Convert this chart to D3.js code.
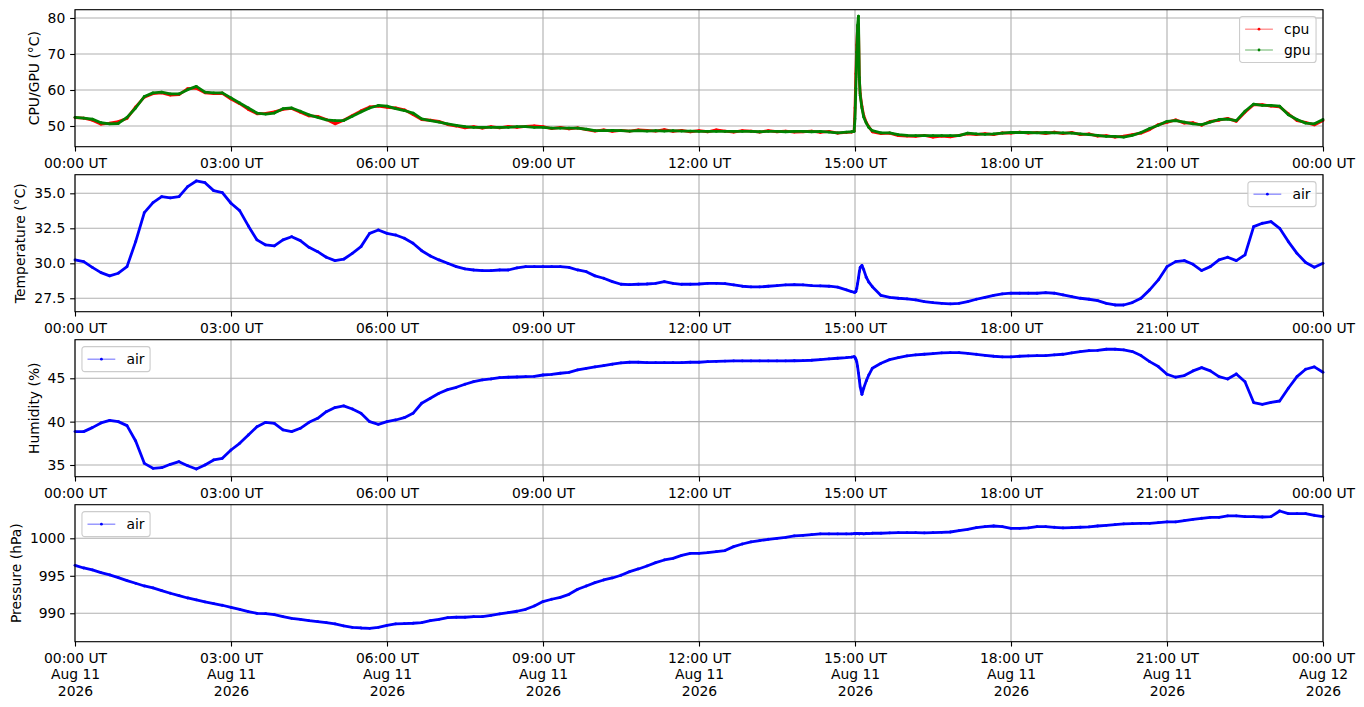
<!DOCTYPE html>
<html>
<head>
<meta charset="utf-8">
<script src="https://cdn.jsdelivr.net/npm/d3@7"></script>
<style>
   body { margin: 0; background: white; }
   svg text { font-family: 'DejaVu Sans', sans-serif; font-size: 13.9px; fill: black; }
</style>
</head>
<body>
<script>

// SAMPLE TIMES -- MINUTES AFTER 00:00 UT, DENSER AROUND THE 15:00 EVENT
var minutes = d3.range(0, 900, 10)
   .concat([896, 899, 900, 901, 902, 903, 904, 905, 906, 908, 910, 913, 916])
   .concat(d3.range(920, 1441, 10));

// CPU / GPU TEMPERATURE (°C)
var cpu = [
   52.3, 52.2, 51.6, 50.5, 50.8, 51.2,
   52.1, 55.3, 58.0, 59.0, 59.2, 58.6,
   58.7, 60.4, 60.5, 59.2, 59.0, 59.1,
   57.5, 56.2, 54.6, 53.4, 53.5, 53.9,
   54.6, 54.9, 53.8, 52.8, 52.7, 51.8,
   50.6, 51.6, 52.9, 54.2, 55.3, 55.5,
   55.2, 55.0, 54.5, 53.2, 51.8, 51.6,
   51.3, 50.4, 50.0, 49.5, 49.8, 49.4,
   49.8, 49.5, 49.9, 49.6, 49.9, 50.0,
   49.8, 49.3, 49.6, 49.2, 49.5, 49.0,
   48.6, 48.9, 48.5, 48.8, 48.6, 48.9,
   48.8, 48.6, 49.0, 48.5, 48.8, 48.4,
   48.7, 48.4, 48.9, 48.6, 48.3, 48.7,
   48.6, 48.3, 48.7, 48.4, 48.6, 48.3,
   48.4, 48.6, 48.2, 48.5, 48.0, 48.2,
   48.3, 48.6, 55.0, 64.5, 72.5, 77.5, 78.2, 63.0, 59.0, 55.5, 53.0, 51.0, 49.8,
   48.4, 47.9, 48.0, 47.3,
   47.2, 47.1, 47.4, 46.9, 47.2, 47.0,
   47.4, 47.8, 47.6, 47.9, 47.6, 48.1,
   48.0, 48.3, 48.0, 48.2, 47.9, 48.3,
   47.9, 48.2, 47.6, 47.8, 47.2, 47.3,
   46.9, 47.2, 47.6, 48.0, 49.0, 50.4,
   51.0, 51.7, 50.8, 50.9, 50.2, 51.3,
   51.6, 52.1, 51.3, 53.8, 55.9, 55.9,
   55.5, 55.3, 53.4, 51.5, 51.0, 50.3,
   51.5
];
var gpu = [
   52.4, 52.2, 51.9, 50.9, 50.6, 50.7,
   52.4, 55.0, 58.2, 59.2, 59.4, 58.9,
   58.9, 60.1, 61.0, 59.4, 59.2, 59.2,
   57.8, 56.4, 55.0, 53.6, 53.3, 53.6,
   54.8, 55.0, 54.1, 53.1, 52.4, 51.7,
   51.5, 51.5, 52.7, 53.9, 55.0, 55.7,
   55.5, 54.8, 54.3, 53.6, 52.0, 51.5,
   51.1, 50.6, 50.2, 49.8, 49.6, 49.6,
   49.6, 49.6, 49.6, 49.8, 49.8, 49.6,
   49.6, 49.4, 49.4, 49.4, 49.4, 49.1,
   48.7, 48.7, 48.8, 48.7, 48.6, 48.7,
   48.6, 48.7, 48.6, 48.7, 48.6, 48.6,
   48.5, 48.5, 48.5, 48.5, 48.5, 48.5,
   48.5, 48.4, 48.5, 48.5, 48.4, 48.5,
   48.5, 48.4, 48.5, 48.3, 48.1, 48.3,
   48.4, 48.5, 52.0, 60.5, 70.5, 78.0, 80.5, 63.5, 58.5, 55.0, 52.5, 50.8, 49.6,
   48.7, 48.1, 48.1, 47.6,
   47.4, 47.3, 47.3, 47.3, 47.3, 47.3,
   47.3, 48.0, 47.8, 47.7, 47.8, 48.0,
   48.2, 48.2, 48.2, 48.1, 48.2, 48.1,
   48.1, 48.0, 47.8, 47.6, 47.4, 47.1,
   47.1, 46.9, 47.4, 48.2, 49.3, 50.2,
   51.3, 51.5, 51.1, 50.6, 50.4, 51.1,
   51.8, 51.9, 51.5, 54.1, 56.1, 55.7,
   55.7, 55.5, 53.1, 51.8, 50.8, 50.6,
   51.8
];

// AIR TEMPERATURE (°C)
var airTemp = [
   30.24, 30.12, 29.71, 29.33, 29.10, 29.29,
   29.76, 31.55, 33.62, 34.33, 34.76, 34.67,
   34.76, 35.48, 35.88, 35.76, 35.19, 35.05,
   34.29, 33.76, 32.67, 31.67, 31.31, 31.24,
   31.67, 31.90, 31.62, 31.14, 30.83, 30.43,
   30.19, 30.29, 30.71, 31.19, 32.14, 32.38,
   32.14, 32.02, 31.79, 31.43, 30.90, 30.52,
   30.24, 30.00, 29.76, 29.60, 29.52, 29.48,
   29.48, 29.52, 29.52, 29.67, 29.76, 29.76,
   29.76, 29.76, 29.76, 29.71, 29.52, 29.40,
   29.10, 28.93, 28.69, 28.50, 28.48, 28.50,
   28.52, 28.57, 28.69, 28.57, 28.50, 28.50,
   28.52, 28.57, 28.57, 28.55, 28.45, 28.36,
   28.31, 28.31, 28.36, 28.40, 28.45, 28.48,
   28.45, 28.40, 28.38, 28.36, 28.29, 28.10,
   27.98, 27.93, 27.93, 27.98, 28.20, 28.55, 28.95, 29.40, 29.70, 29.85, 29.55, 29.00, 28.65,
   28.33, 27.70, 27.57, 27.50,
   27.45, 27.38, 27.26, 27.19, 27.14, 27.10,
   27.14, 27.26, 27.43, 27.57, 27.71, 27.81,
   27.86, 27.86, 27.86, 27.86, 27.90, 27.86,
   27.74, 27.62, 27.50, 27.43, 27.33, 27.14,
   27.02, 27.02, 27.19, 27.50, 28.10, 28.81,
   29.76, 30.12, 30.19, 29.93, 29.48, 29.76,
   30.24, 30.43, 30.19, 30.60, 32.62, 32.86,
   32.98, 32.50, 31.55, 30.71, 30.05, 29.71,
   30.00
];

// AIR HUMIDITY (%)
var airHumidity = [
   38.85, 38.85, 39.31, 39.85, 40.15, 40.00,
   39.54, 37.77, 35.19, 34.62, 34.69, 35.08,
   35.38, 34.92, 34.54, 35.00, 35.58, 35.77,
   36.73, 37.50, 38.46, 39.42, 39.92, 39.81,
   39.04, 38.85, 39.23, 39.92, 40.38, 41.15,
   41.62, 41.81, 41.46, 40.96, 40.00, 39.69,
   40.00, 40.19, 40.46, 40.96, 42.12, 42.69,
   43.27, 43.69, 43.96, 44.31, 44.62, 44.81,
   44.92, 45.08, 45.12, 45.15, 45.19, 45.23,
   45.38, 45.46, 45.58, 45.69, 45.96, 46.15,
   46.31, 46.46, 46.62, 46.77, 46.85, 46.85,
   46.81, 46.81, 46.81, 46.81, 46.81, 46.85,
   46.85, 46.92, 46.95, 46.98, 47.00, 47.00,
   47.00, 47.00, 47.00, 47.00, 47.00, 47.02,
   47.04, 47.08, 47.15, 47.23, 47.31, 47.38,
   47.45, 47.50, 47.40, 47.20, 46.90, 46.35, 45.60, 44.80, 44.00, 43.15, 43.85, 44.70, 45.40,
   46.15, 46.73, 47.15, 47.38,
   47.58, 47.69, 47.77, 47.85, 47.92, 47.96,
   47.96, 47.88, 47.77, 47.65, 47.54, 47.46,
   47.46, 47.54, 47.58, 47.62, 47.62, 47.69,
   47.77, 47.92, 48.08, 48.19, 48.23, 48.35,
   48.35, 48.27, 48.08, 47.62, 46.92, 46.35,
   45.46, 45.12, 45.31, 45.85, 46.23, 45.85,
   45.19, 44.92, 45.50, 44.60, 42.20, 42.00,
   42.23, 42.38, 43.85, 45.19, 46.04, 46.31,
   45.69
];

// AIR PRESSURE (hPa)
var airPressure = [
   996.40, 996.04, 995.78, 995.42, 995.11, 994.76,
   994.36, 994.00, 993.64, 993.38, 993.02, 992.67,
   992.36, 992.04, 991.78, 991.51, 991.29, 991.07,
   990.80, 990.53, 990.22, 990.00, 989.96, 989.82,
   989.56, 989.33, 989.20, 989.02, 988.89, 988.76,
   988.58, 988.31, 988.13, 988.04, 988.00, 988.13,
   988.40, 988.58, 988.62, 988.67, 988.76, 989.02,
   989.20, 989.42, 989.47, 989.47, 989.56, 989.56,
   989.73, 989.91, 990.09, 990.27, 990.53, 990.98,
   991.56, 991.87, 992.13, 992.53, 993.20, 993.64,
   994.09, 994.44, 994.71, 995.07, 995.56, 995.91,
   996.31, 996.76, 997.11, 997.33, 997.73, 998.00,
   998.00, 998.09, 998.22, 998.36, 998.89, 999.24,
   999.51, 999.69, 999.87, 1000.00, 1000.13, 1000.31,
   1000.40, 1000.49, 1000.58, 1000.58, 1000.58, 1000.58,
   1000.60, 1000.63, 1000.62, 1000.60, 1000.64, 1000.61, 1000.63, 1000.60, 1000.62, 1000.63, 1000.60, 1000.64, 1000.62,
   1000.67, 1000.67, 1000.71, 1000.76,
   1000.76, 1000.76, 1000.71, 1000.76, 1000.80, 1000.84,
   1001.02, 1001.20, 1001.42, 1001.56, 1001.64, 1001.56,
   1001.33, 1001.33, 1001.38, 1001.56, 1001.56, 1001.47,
   1001.38, 1001.42, 1001.47, 1001.51, 1001.64, 1001.73,
   1001.82, 1001.91, 1001.96, 1002.00, 1002.00, 1002.09,
   1002.18, 1002.18, 1002.36, 1002.53, 1002.67, 1002.80,
   1002.80, 1002.98, 1002.98, 1002.89, 1002.89, 1002.84,
   1002.89, 1003.64, 1003.29, 1003.29, 1003.29, 1003.07,
   1002.89
];

// TICKS & AXIS RANGES
var cpuTicks = [50, 60, 70, 80];
var tempTicks = [27.5, 30.0, 32.5, 35.0];
var humidityTicks = [35, 40, 45];
var pressureTicks = [990, 995, 1000];
var cpuDomain = [44.25, 82.3];
var tempDomain = [26.54, 36.33];
var humidityDomain = [33.65, 49.45];
var pressureDomain = [986.21, 1004.48];
var dayStart = Date.UTC(2026, 7, 11);

// SETTINGS OBJECT
var settings = {
   width: 1364,
   height: 707,
   left: 75,
   right: 1323,
   top: [9.7, 174.7, 339.7, 504.7],
   panel: 137,
   pt: 100 / 72,
   font: 13.9,
   grid: '#b0b0b0',
   band: 2.8,
   marker: 1.4
};

// PANEL DEFINITIONS
var panels = [
   { label: 'CPU/GPU (°C)', domain: cpuDomain, ticks: cpuTicks, fmt: d3.format('d'), legend: 'right',
     series: [{ name: 'cpu', values: cpu, color: '#ff0000' }, { name: 'gpu', values: gpu, color: '#008000' }] },
   { label: 'Temperature (°C)', domain: tempDomain, ticks: tempTicks, fmt: d3.format('.1f'), legend: 'right',
     series: [{ name: 'air', values: airTemp, color: '#0000ff' }] },
   { label: 'Humidity (%)', domain: humidityDomain, ticks: humidityTicks, fmt: d3.format('d'), legend: 'left',
     series: [{ name: 'air', values: airHumidity, color: '#0000ff' }] },
   { label: 'Pressure (hPa)', domain: pressureDomain, ticks: pressureTicks, fmt: d3.format('d'), legend: 'left',
     series: [{ name: 'air', values: airPressure, color: '#0000ff' }] }
];

// SVG CANVAS
var svg = d3.select('body').append('svg')
   .attr('width', settings.width)
   .attr('height', settings.height);

// SHARED TIME SCALE
var x = d3.scaleUtc()
   .domain([new Date(dayStart), new Date(dayStart + 864e5)])
   .range([settings.left, settings.right]);
var xTicks = x.ticks(d3.utcHour.every(3));
var times = minutes.map(function (m) { return new Date(dayStart + m * 60000); });

panels.forEach(function (p, i) {

   var top = settings.top[i];
   var bottom = top + settings.panel;
   var y = d3.scaleLinear().domain(p.domain).range([bottom, top]);
   var g = svg.append('g');

   // GRID
   g.selectAll('line.vgrid').data(xTicks).enter().append('line')
      .attr('x1', function (d) { return x(d); })
      .attr('x2', function (d) { return x(d); })
      .attr('y1', top).attr('y2', bottom)
      .attr('stroke', settings.grid)
      .attr('stroke-width', 0.8 * settings.pt);
   g.selectAll('line.hgrid').data(p.ticks).enter().append('line')
      .attr('x1', settings.left).attr('x2', settings.right)
      .attr('y1', function (d) { return y(d); })
      .attr('y2', function (d) { return y(d); })
      .attr('stroke', settings.grid)
      .attr('stroke-width', 0.8 * settings.pt);

   // SERIES -- LINE + DOT MARKERS
   p.series.forEach(function (s) {
      var pts = times.map(function (t, k) { return [x(t), y(s.values[k])]; });
      g.append('path')
         .attr('d', d3.line()(pts))
         .attr('fill', 'none')
         .attr('stroke', s.color)
         .attr('stroke-width', settings.band)
         .attr('stroke-linejoin', 'round');
      g.selectAll(null).data(pts).enter().append('circle')
         .attr('cx', function (d) { return d[0]; })
         .attr('cy', function (d) { return d[1]; })
         .attr('r', settings.marker)
         .attr('fill', s.color);
   });

   // SPINES
   g.append('rect')
      .attr('x', settings.left).attr('y', top)
      .attr('width', settings.right - settings.left)
      .attr('height', settings.panel)
      .attr('fill', 'none')
      .attr('stroke', 'black')
      .attr('stroke-width', 0.8 * settings.pt);

   // X AXIS
   var isLast = i === panels.length - 1;
   var xAxis = g.append('g')
      .attr('transform', 'translate(0,' + bottom + ')')
      .call(d3.axisBottom(x).tickValues(xTicks)
         .tickSize(3.5 * settings.pt).tickPadding(3.5 * settings.pt)
         .tickFormat(d3.utcFormat('%H:%M UT')));
   xAxis.select('.domain').remove();
   xAxis.attr('font-family', null).attr('font-size', null);
   xAxis.selectAll('line').attr('stroke-width', 0.8 * settings.pt);
   xAxis.selectAll('text').attr('dy', null).attr('y', 21);
   if (isLast) {
      xAxis.selectAll('text').each(function (d) {
         var t = d3.select(this).text('');
         [d3.utcFormat('%H:%M UT')(d), d3.utcFormat('%b %d')(d), d3.utcFormat('%Y')(d)].forEach(function (line, k) {
            t.append('tspan').attr('x', 0).attr('y', 21 + k * 16.7).text(line);
         });
      });
   }

   // Y AXIS
   var yAxis = g.append('g')
      .attr('transform', 'translate(' + settings.left + ',0)')
      .call(d3.axisLeft(y).tickValues(p.ticks)
         .tickSize(3.5 * settings.pt).tickPadding(3.5 * settings.pt)
         .tickFormat(p.fmt));
   yAxis.select('.domain').remove();
   yAxis.attr('font-family', null).attr('font-size', null);
   yAxis.selectAll('line').attr('stroke-width', 0.8 * settings.pt);

   // Y LABEL -- PLACED LEFT OF THE TICK LABELS
   var tickLeft = settings.left + yAxis.node().getBBox().x;
   g.append('text')
      .attr('transform', 'translate(' + (tickLeft - 4 * settings.pt - 3.3) + ',' + (top + settings.panel / 2) + ') rotate(-90)')
      .attr('text-anchor', 'middle')
      .text(p.label);

   // LEGEND
   drawLegend(g, p, top);
});

// LEGEND RENDERING FUNC
function drawLegend(g, p, top) {
   var f = settings.font;
   var pad = 0.4 * f, handle = 2 * f, gap = 0.8 * f, spacing = 0.5 * f, axPad = 0.5 * f;
   var lg = g.append('g');
   var box = lg.append('rect');
   var maxW = 0;
   var rows = lg.selectAll('g.row').data(p.series).enter().append('g');
   rows.append('text')
      .attr('x', pad + handle + gap)
      .attr('y', function (d, k) { return pad + f / 2 + k * (f + spacing); })
      .attr('dy', '0.36em')
      .text(function (d) { return d.name; })
      .each(function () { maxW = Math.max(maxW, this.getComputedTextLength()); });
   rows.append('line')
      .attr('x1', pad).attr('x2', pad + handle)
      .attr('y1', function (d, k) { return pad + f / 2 + k * (f + spacing); })
      .attr('y2', function (d, k) { return pad + f / 2 + k * (f + spacing); })
      .attr('stroke', function (d) { return d.color; })
      .attr('stroke-opacity', 0.6)
      .attr('stroke-width', 1);
   rows.append('circle')
      .attr('cx', pad + handle / 2)
      .attr('cy', function (d, k) { return pad + f / 2 + k * (f + spacing); })
      .attr('r', settings.marker)
      .attr('fill', function (d) { return d.color; });
   var w = pad + handle + gap + maxW + pad;
   var h = 2 * pad + p.series.length * f + (p.series.length - 1) * spacing;
   box.attr('width', w).attr('height', h)
      .attr('rx', 2.8).attr('ry', 2.8)
      .attr('fill', 'white').attr('fill-opacity', 0.8)
      .attr('stroke', '#cccccc').attr('stroke-width', 1.1);
   var lx = p.legend === 'right' ? settings.right - axPad - w : settings.left + axPad;
   lg.attr('transform', 'translate(' + lx + ',' + (top + axPad) + ')');
}
</script>
</body>
</html>
